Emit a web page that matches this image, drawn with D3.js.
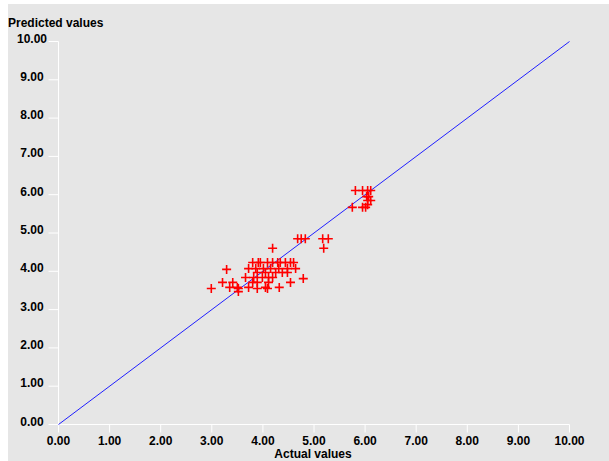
<!DOCTYPE html>
<html>
<head>
<meta charset="utf-8">
<script src="https://cdn.jsdelivr.net/npm/d3@7"></script>
<style>
  html, body { margin: 0; padding: 0; background: #ffffff; }
  svg { display: block; }
  text { font-family: "Liberation Sans", Arial, sans-serif; font-weight: bold; font-size: 12px; fill: #000; }
</style>
</head>
<body>
<script>
// Actual vs predicted values, one pair per observation
const actualValues = [
  5.81, 5.95, 6.05, 6.11, 6.03, 6.07, 6.05, 6.11, 5.75, 5.95, 6.01, 6.05,
  4.68, 4.75, 4.83, 5.17, 5.28, 5.19, 4.19,
  3.80, 3.91, 3.95, 4.09, 4.19, 4.29, 4.34, 4.44, 4.54, 4.60,
  3.29,
  3.72, 3.86, 4.01, 4.15, 4.31, 4.48, 4.64,
  3.89, 4.05, 4.25, 4.38, 4.48,
  3.66, 3.82, 3.99, 4.11, 4.19,
  4.79,
  3.21, 3.41, 3.80, 3.89, 4.11, 4.54,
  3.35, 3.50, 3.72, 4.05, 4.32,
  2.99, 3.52, 3.89, 4.09,
  3.52
];
const predictedValues = [
  6.11, 6.11, 6.11, 6.11, 5.95, 5.95, 5.85, 5.85, 5.67, 5.67, 5.67, 5.74,
  4.85, 4.85, 4.85, 4.85, 4.85, 4.60, 4.60,
  4.23, 4.23, 4.23, 4.23, 4.23, 4.23, 4.23, 4.23, 4.23, 4.23,
  4.05,
  4.07, 4.07, 4.07, 4.07, 4.07, 4.07, 4.07,
  3.97, 3.97, 3.97, 3.97, 3.97,
  3.84, 3.84, 3.84, 3.84, 3.84,
  3.81,
  3.71, 3.71, 3.71, 3.71, 3.71, 3.71,
  3.58, 3.58, 3.58, 3.58, 3.58,
  3.55, 3.55, 3.55, 3.55,
  3.47
];
const tickValues = [0, 1, 2, 3, 4, 5, 6, 7, 8, 9, 10];
const xTitle = "Actual values";
const yTitle = "Predicted values";

const W = 609, H = 461;
const svg = d3.select("body").append("svg").attr("width", W).attr("height", H);

// Gray panel with a thin white margin on the left and top
svg.append("rect").attr("x", 8).attr("y", 4).attr("width", W - 8).attr("height", H - 4).attr("fill", "#e6e6e6");

const x = d3.scaleLinear().domain([0, 10]).range([58.5, 569.5]);
const y = d3.scaleLinear().domain([0, 10]).range([424.5, 41.5]);
const fmt = d3.format(".2f");

// Axes drawn as white lines
const axisCol = "#ffffff";
svg.append("line").attr("x1", x(0)).attr("x2", x(10)).attr("y1", y(0)).attr("y2", y(0))
  .attr("stroke", axisCol).attr("stroke-width", 1);
svg.append("line").attr("x1", x(0)).attr("x2", x(0)).attr("y1", y(0)).attr("y2", y(10))
  .attr("stroke", axisCol).attr("stroke-width", 1);

// X ticks and labels
const xt = svg.append("g");
xt.selectAll("line").data(tickValues).join("line")
  .attr("x1", d => x(d)).attr("x2", d => x(d))
  .attr("y1", y(0)).attr("y2", y(0) + 8)
  .attr("stroke", axisCol);
xt.selectAll("text").data(tickValues).join("text")
  .attr("x", d => x(d)).attr("y", 445)
  .attr("text-anchor", "middle")
  .text(d => fmt(d));

// Y ticks and labels
const yt = svg.append("g");
yt.selectAll("line").data(tickValues).join("line")
  .attr("x1", x(0) - 10).attr("x2", x(0))
  .attr("y1", d => y(d)).attr("y2", d => y(d))
  .attr("stroke", axisCol);
yt.selectAll("text").data(tickValues).join("text")
  .attr("x", 32).attr("y", d => y(d) + 1)
  .attr("text-anchor", "middle")
  .text(d => fmt(d));

// Axis titles
svg.append("text").attr("x", 8).attr("y", 27).text(yTitle);
svg.append("text").attr("x", 313).attr("y", 458).attr("text-anchor", "middle").text(xTitle);

// Ideal-fit diagonal
svg.append("line")
  .attr("x1", x(0)).attr("y1", y(0)).attr("x2", x(10)).attr("y2", y(10))
  .attr("stroke", "#2020ff").attr("stroke-width", 1);

// Observations as "+" markers
const pts = actualValues.map((a, i) => ({ a, p: predictedValues[i] }));
const s = 4.5;
const marks = svg.append("g").attr("stroke", "#ff0000").attr("stroke-width", 1.6);
marks.selectAll("path").data(pts).join("path")
  .attr("d", d => {
    const cx = x(d.a), cy = y(d.p);
    return `M${cx - s},${cy}H${cx + s}M${cx},${cy - s}V${cy + s}`;
  })
  .attr("fill", "none");
</script>
</body>
</html>
